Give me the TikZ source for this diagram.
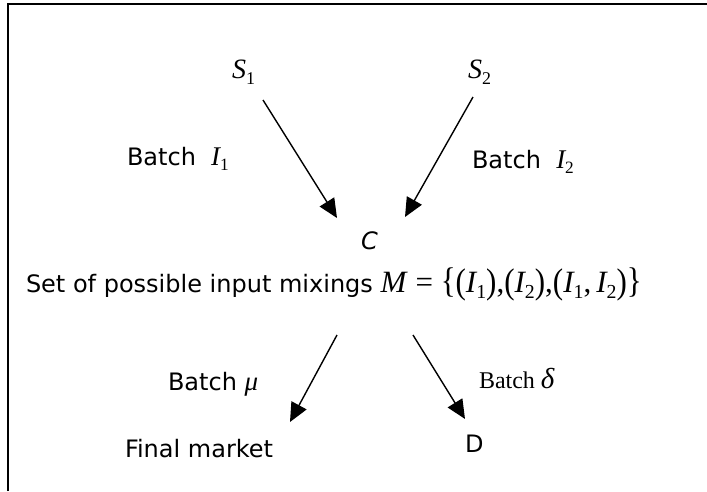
\documentclass[tikz,border=0pt]{standalone}
\usepackage{fontspec}
\setmainfont{DejaVu Sans}
\newfontfamily\tm{Liberation Serif}
\usetikzlibrary{arrows.meta}
\newcommand\vv[2]{{\itshape #1}\edef\subsz{\the\dimexpr 0.64\fontdimen6\font\relax}\raisebox{-0.22em}{\fontsize{\subsz}{\subsz}\selectfont\upshape #2}}
\newcommand\lp{\raisebox{-0.06em}{\scalebox{1}[1.15]{(}}}
\newcommand\rp{\raisebox{-0.06em}{\scalebox{1}[1.15]{)}}}
\tikzset{
  lbl/.style={inner sep=0pt, outer sep=0pt, anchor=base west, font=\fontsize{24}{26}\selectfont},
  mth/.style={inner sep=0pt, outer sep=0pt, anchor=base west, font=\tm\fontsize{28}{30}\selectfont},
  arr/.style={line width=1.4pt, -{Triangle[length=19pt,width=17pt]}},
  frame/.style={line width=2pt}
}
\begin{document}
\begin{tikzpicture}[x=1pt,y=-1pt]
\useasboundingbox (0,0) rectangle (707,491);
\fill[white] (0,0) rectangle (707,491);
\draw[frame] (8,491) -- (8,4) -- (707,4);
\node[mth] (s1) at (232,78) {\vv{S}{1}};
\node[mth] (s2) at (468,78) {\vv{S}{2}};
\node[lbl] (b1) at (127,165) {Batch\ \ {\tm\fontsize{27}{29}\selectfont\vv{I}{1}}};
\node[lbl] (b2) at (472,168) {Batch\ \ {\tm\fontsize{27}{29}\selectfont\vv{I}{2}}};
\node[lbl] (c) at (361,249) {\itshape C};
\node[lbl] (set) at (26,292) {Set of possible input mixings {\tm\fontsize{31}{33}\selectfont\itshape M\/ \upshape= \scalebox{1}[1.15]{\{}\lp\vv{I}{1}\rp,\lp\vv{I}{2}\rp,\lp\vv{I}{1},\,\vv{I}{2}\rp\scalebox{1}[1.15]{\}}}};
\node[lbl] (bmu) at (168,390) {Batch {\tm\fontsize{27}{29}\selectfont\itshape μ}};
\node[mth] (bdelta) at (479,388) {\fontsize{24}{26}\selectfont Batch {\fontsize{29}{31}\selectfont\itshape δ}};
\node[lbl] (fm) at (125,457) {Final market};
\node[lbl] (d) at (465,452) {D};
\coordinate (a1s) at (263,100);
\coordinate (a1e) at (337,218);
\coordinate (a2s) at (473,97);
\coordinate (a2e) at (405,217);
\coordinate (a3s) at (337,335);
\coordinate (a3e) at (290,422);
\coordinate (a4s) at (413,335);
\coordinate (a4e) at (465,419);
\draw[arr] (a1s) -- (a1e);
\draw[arr] (a2s) -- (a2e);
\draw[arr] (a3s) -- (a3e);
\draw[arr] (a4s) -- (a4e);
\end{tikzpicture}
\end{document}
